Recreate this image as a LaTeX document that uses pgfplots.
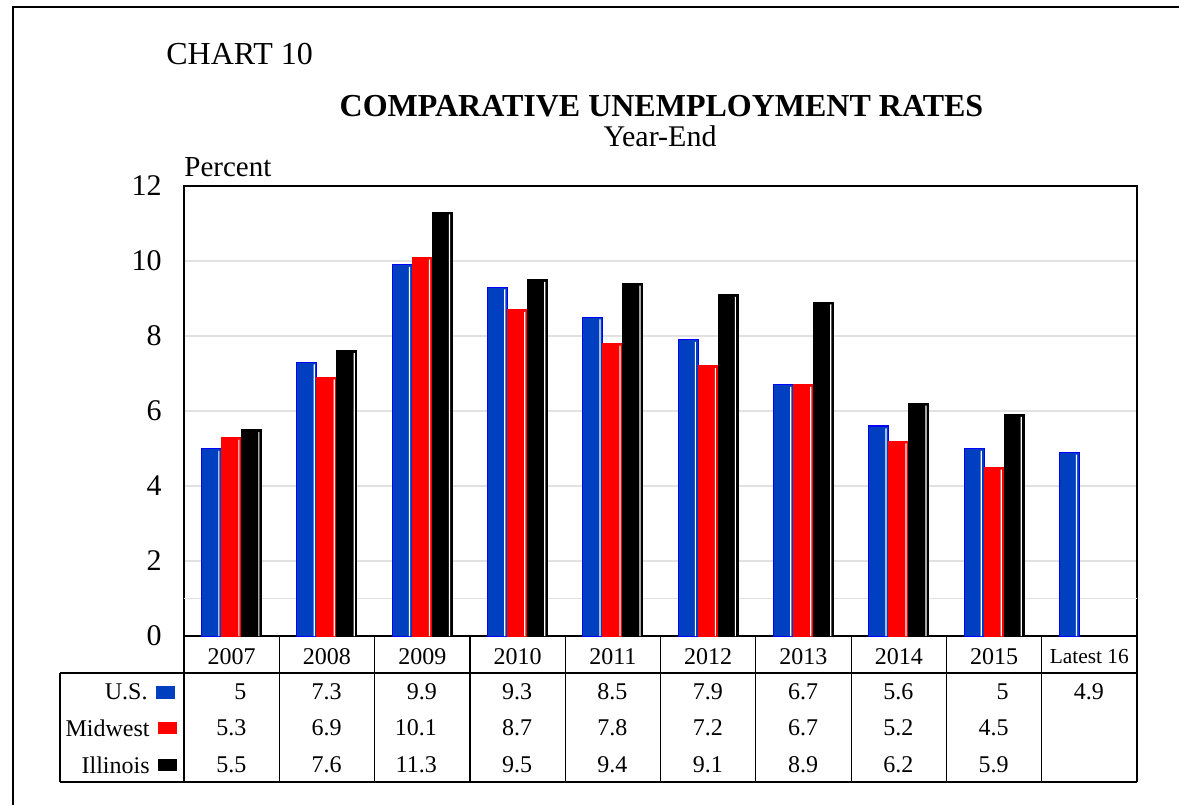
\documentclass[border=0pt]{standalone}
\usepackage{fontspec}
\setmainfont{Liberation Serif}
\usepackage{pgfplots}
\usepackage{pgfplotstable}
\pgfplotsset{compat=1.18}

\definecolor{usblue}{RGB}{0,64,192}
\definecolor{usedge}{RGB}{0,0,255}
\definecolor{gridgray}{RGB}{225,225,225}

% year-end unemployment rates, percent
\pgfplotstableread{
x us  mw   il
0 5   5.3  5.5
1 7.3 6.9  7.6
2 9.9 10.1 11.3
3 9.3 8.7  9.5
4 8.5 7.8  9.4
5 7.9 7.2  9.1
6 6.7 6.7  8.9
7 5.6 5.2  6.2
8 5   4.5  5.9
9 4.9 nan  nan
}\rates

\newcommand\tfont{\fontsize{12}{14}\selectfont}
% thin white stripe near the right edge of a bar
\pgfplotsset{shine/.style={ybar, bar width=0.6pt, fill=white, draw=none, forget plot}}

\begin{document}
\begin{tikzpicture}
\path[use as bounding box, fill=white] (0,0) rectangle (589.5pt,402.5pt);
\draw[line width=1pt] (6.5pt,0) -- (6.5pt,399pt) -- (589.5pt,399pt);

\node[anchor=base west, inner sep=0pt, font=\fontsize{16}{18}\selectfont] at (83pt,370pt) {CHART 10};
\node[anchor=base, inner sep=0pt, font=\fontsize{16}{18}\selectfont\bfseries] at (330.75pt,344pt) {COMPARATIVE UNEMPLOYMENT RATES};
\node[anchor=base, inner sep=0pt, font=\fontsize{15}{17}\selectfont] at (330pt,329pt) {Year-End};
\node[anchor=base west, inner sep=0pt, font=\fontsize{14.5}{16}\selectfont] at (92pt,314pt) {Percent};

\begin{axis}[
  at={(92pt,84.5pt)}, anchor=south west,
  scale only axis, width=476.5pt, height=225pt,
  xmin=-0.5, xmax=9.5, ymin=0, ymax=12,
  ytick={0,2,...,12},
  extra y ticks={1}, extra y tick labels={},
  extra y tick style={grid=major},
  xtick={0,...,9},
  xticklabels={2007,2008,2009,2010,2011,2012,2013,2014,2015,{\fontsize{10.7}{12}\selectfont Latest 16}},
  major tick length=0pt,
  ymajorgrids,
  grid style={gridgray, line width=0.6pt},
  axis line style={line width=1pt},
  xticklabel style={font=\tfont, anchor=center, inner sep=0pt, yshift=-10.5pt},
  yticklabel style={font=\fontsize{15}{17}\selectfont, anchor=east, inner sep=0pt, xshift=-11pt},
  /pgf/number format/assume math mode=true,
  clip=false,
  bar width=10pt,
]
\addplot[ybar, bar shift=-10pt, fill=usblue, draw=usedge, line width=0.5pt] table[x=x, y=us]{\rates};
\addplot[ybar, bar shift=0pt, fill=red, draw=red, line width=0.5pt] table[x=x, y=mw]{\rates};
\addplot[ybar, bar shift=10pt, fill=black, draw=black, line width=0.5pt] table[x=x, y=il]{\rates};
\addplot[shine, bar shift=-6.4pt] table[x=x, y expr=\thisrow{us}-0.06]{\rates};
\addplot[shine, bar shift=3.6pt] table[x=x, y expr=\thisrow{mw}-0.06]{\rates};
\addplot[shine, bar shift=13.6pt] table[x=x, y expr=\thisrow{il}-0.06]{\rates};

% values of the data table under the axis
\addplot[draw=none, mark=none, nodes near coords, point meta=explicit symbolic,
  nodes near coords style={anchor=east, inner sep=0pt, xshift=7.5pt, font=\tfont}]
  table[x=x, y expr=-1.493, meta=us]{\rates};
\addplot[draw=none, mark=none, nodes near coords, point meta=explicit symbolic,
  skip coords between index={9}{10},
  nodes near coords style={anchor=east, inner sep=0pt, xshift=7.5pt, font=\tfont}]
  table[x=x, y expr=-2.453, meta=mw]{\rates};
\addplot[draw=none, mark=none, nodes near coords, point meta=explicit symbolic,
  skip coords between index={9}{10},
  nodes near coords style={anchor=east, inner sep=0pt, xshift=7.5pt, font=\tfont}]
  table[x=x, y expr=-3.44, meta=il]{\rates};
\end{axis}

% table grid
\draw[line width=0.6pt] (30pt,66pt) -- (568.5pt,66pt);
\draw[line width=0.6pt] (30pt,11.5pt) -- (568.5pt,11.5pt);
\draw[line width=0.6pt] (30pt,66pt) -- (30pt,11.5pt);
\foreach \k in {0,...,10}
  \draw[line width=0.6pt] ({(92+47.65*\k)*1pt},84.5pt) -- ({(92+47.65*\k)*1pt},11.5pt);

% row labels with colour keys
\node[anchor=east, inner sep=0pt, font=\tfont] at (74pt,56.5pt) {U.S.};
\fill[usblue] (78pt,53pt) rectangle (87.5pt,59.5pt);
\node[anchor=east, inner sep=0pt, font=\tfont] at (75pt,38.5pt) {Midwest};
\fill[red] (79pt,35.5pt) rectangle (88.5pt,41.5pt);
\node[anchor=east, inner sep=0pt, font=\tfont] at (75pt,20pt) {Illinois};
\fill[black] (79pt,17pt) rectangle (88.5pt,23pt);
\end{tikzpicture}
\end{document}
